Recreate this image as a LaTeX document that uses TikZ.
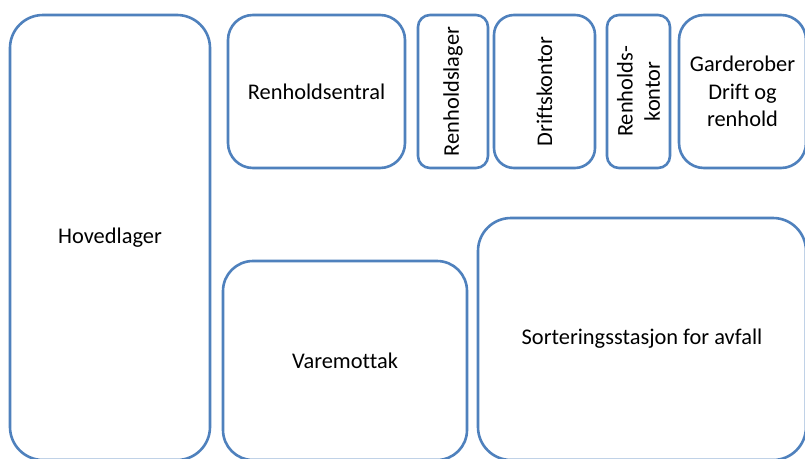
\documentclass[tikz,border=0pt]{standalone}
\usepackage{fontspec}
\setmainfont[Ligatures={NoCommon}]{Carlito}
\definecolor{boxblue}{HTML}{4F81BD}
\begin{document}
\begin{tikzpicture}[x=1pt,y=-1pt,
  room/.style={draw=boxblue, line width=2.6pt, fill=white, rectangle, inner sep=0pt,
    align=center, text=black, font=\fontsize{22.4pt}{27.3pt}\selectfont}]
\useasboundingbox (0,0) rectangle (805,458);
\clip (0,0) rectangle (805,458);
\fill[white] (0,0) rectangle (805,458);
\node[room, minimum width=200pt, minimum height=445pt, rounded corners=33pt] (hov) at (110,237.5) {Hovedlager};
\node[room, minimum width=177pt, minimum height=153pt, rounded corners=25pt] (rsen) at (316.5,91.5) {Renholdsentral};
\node[room, rotate=90, minimum width=153pt, minimum height=70pt, rounded corners=12pt] (rlag) at (453,91.5) {Renholdslager};
\node[room, rotate=90, minimum width=153pt, minimum height=101pt, rounded corners=20pt] (drift) at (544.5,91.5) {Driftskontor};
\node[room, rotate=90, minimum width=153pt, minimum height=63pt, rounded corners=12pt] (rkon) at (638.5,91.5) {Renholds-\\kontor};
\node[room, minimum width=127pt, minimum height=153pt, rounded corners=25pt] (gard) at (742.5,91.5) {Garderober\\Drift og\\renhold};
\node[room, minimum width=244pt, minimum height=199pt, rounded corners=30pt] (vare) at (345,360.5) {Varemottak};
\node[room, minimum width=328pt, minimum height=242pt, rounded corners=33pt] (sort) at (642,339) {Sorteringsstasjon for avfall};
\end{tikzpicture}
\end{document}
